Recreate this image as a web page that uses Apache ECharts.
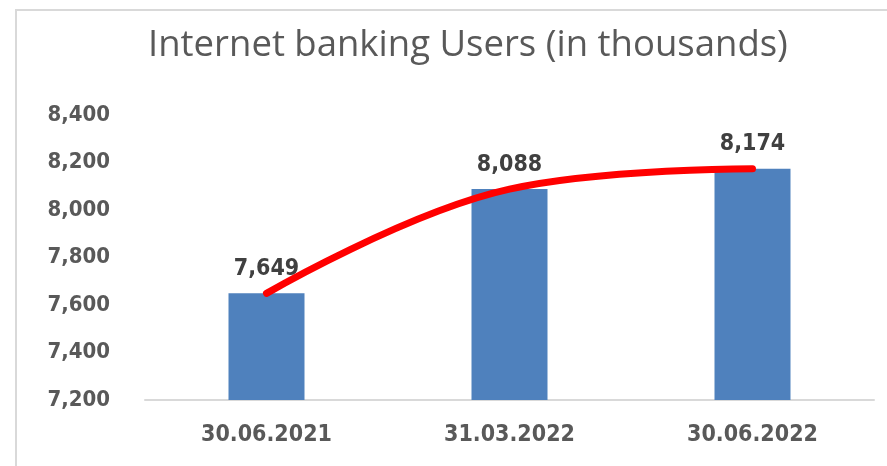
<!DOCTYPE html>
<html>
<head>
<meta charset="utf-8">
<script src="https://cdn.jsdelivr.net/npm/echarts@6/dist/echarts.min.js"></script>
<style>html,body{margin:0;padding:0;background:#fff}#c{width:887px;height:466px}</style>
</head>
<body>
<div id="c"></div>
<script>
const titleText = 'Internet banking Users (in thousands)';
const categories = ['30.06.2021', '31.03.2022', '30.06.2022'];
const users = [7649, 8088, 8174];
const yTicks = [7200, 7400, 7600, 7800, 8000, 8200, 8400];

const fmt = v => String(v).replace(/\B(?=(\d{3})+(?!\d))/g, ',');
const chart = echarts.init(document.getElementById('c'), null, {renderer: 'canvas'});
chart.setOption({
  animation: false,
  backgroundColor: '#fff',
  title: {
    text: titleText,
    left: 143, top: 22,
    textStyle: {fontFamily: 'Open Sans', fontSize: 36.5, fontWeight: 'normal', color: '#595959'}
  },
  graphic: [{
    type: 'rect', silent: true,
    shape: {x: 16, y: 10, width: 900, height: 500},
    style: {fill: 'none', stroke: '#d9d9d9', lineWidth: 2}
  }],
  grid: {left: 145, right: 13, top: 115, bottom: 66},
  xAxis: {
    type: 'category', data: categories,
    axisLine: {lineStyle: {color: '#d9d9d9', width: 2}},
    axisTick: {show: false},
    axisLabel: {margin: 24, color: '#595959', fontWeight: 'bold', fontSize: 23, fontFamily: 'DejaVu Sans Condensed'}
  },
  yAxis: {
    type: 'value', min: yTicks[0], max: yTicks[yTicks.length - 1], interval: yTicks[1] - yTicks[0],
    axisLine: {show: false}, axisTick: {show: false}, splitLine: {show: false},
    axisLabel: {margin: 35, color: '#595959', fontWeight: 'bold', fontSize: 22, fontFamily: 'DejaVu Sans Condensed', formatter: fmt}
  },
  series: [{
    type: 'bar', data: users, barWidth: 76,
    itemStyle: {color: '#4f81bd'},
    label: {show: true, position: 'top', distance: 13, color: '#404040', fontWeight: 'bold', fontSize: 23, fontFamily: 'DejaVu Sans Condensed', formatter: p => fmt(p.value)},
    z: 2
  }, {
    type: 'line', data: users, smooth: 0.4, showSymbol: false, symbol: 'none',
    lineStyle: {color: '#ff0000', width: 7, cap: 'round', join: 'round'},
    z: 3
  }]
});
</script>
</body>
</html>
